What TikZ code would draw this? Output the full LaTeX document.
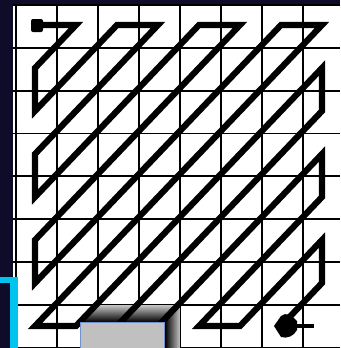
\documentclass[tikz,border=0pt]{standalone}
\usetikzlibrary{arrows.meta}
\definecolor{navy}{RGB}{14,12,40}
\definecolor{cyanb}{RGB}{0,196,240}
\definecolor{boxgray}{RGB}{192,192,192}
\definecolor{boxedge}{RGB}{112,144,208}
\begin{document}
\begin{tikzpicture}[x=1pt,y=-1pt,
  gridline/.style={line width=1.8pt, black},
  zz/.style={line width=6.2pt, line join=miter, miter limit=10, black},
  stub/.style={line width=4pt, black}]
\fill[navy] (0,0) rectangle (340,348);
\useasboundingbox (0,0) rectangle (340,348);
\fill[white] (12.5,4) rectangle (340,348);
\begin{scope}
\clip (12.5,4) rectangle (340,348);
\foreach \i in {0,...,8} \draw[gridline] ({16+41*\i},0) -- ({16+41*\i},348);
\foreach \i in {0,...,8} \draw[gridline] (0,{5+42.8*\i}) -- (340,{5+42.8*\i});
\end{scope}
\foreach \r in {0,...,7} \foreach \c in {0,...,7}
  \coordinate (p\r\c) at ({35+41*\c},{25+43*\r});
% shadow of the bottom box
\shade[top color=gray!45, bottom color=black] (80,322) -- (97,305) -- (180,305) -- (165,322) -- cycle;
\shade[left color=black, right color=gray!45] (165,322) -- (180,305) -- (180,348) -- (165,348) -- cycle;
% zigzag scan
\draw[zz] (p00) -- (p01) -- (p10) -- (p20) -- (p02) -- (p03) -- (p30) -- (p40)
  -- (p04) -- (p05) -- (p50) -- (p60) -- (p06) -- (p07) -- (p70) -- (p71)
  -- (p17) -- (p27) -- (p72) -- (p73) -- (p37) -- (p47) -- (p74) -- (p75)
  -- (p57) -- (p67) -- (p76);
\fill[black, rounded corners=2pt] (31,19) rectangle (43,32);
% end arrow blob
\coordinate (tail) at (314,325.5);
\coordinate (tip) at (274,326);
\draw[stub] (tail) -- (296,325.5);
\fill[black] (tip) -- (281,316) .. controls (286,312) and (291,315) .. (294,318)
  -- (297,321) -- (297,330) .. controls (294,336) and (287,339) .. (281,337) -- cycle;
% grey box
\draw[boxedge, line width=1pt, fill=boxgray] (80.5,322.5) rectangle (164.5,350);
% cyan bracket
\fill[cyanb] (0,277) rectangle (18,283);
\fill[cyanb] (10,277) rectangle (18,348);
\end{tikzpicture}
\end{document}
